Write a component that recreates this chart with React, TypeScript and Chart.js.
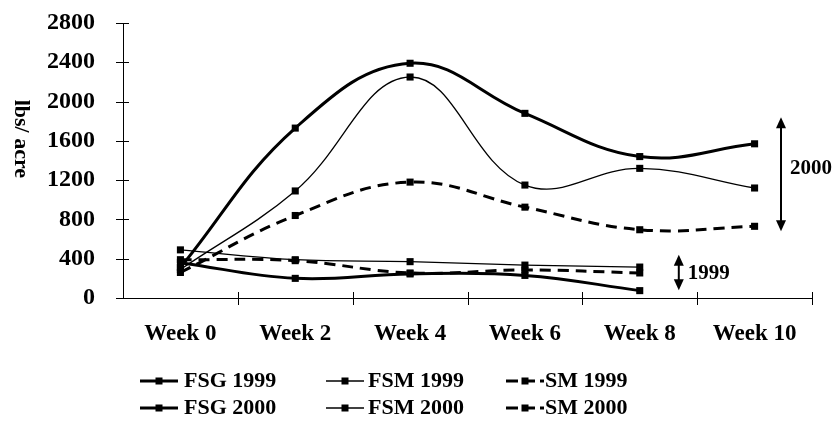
import React, { useEffect, useRef } from "react";
import { Chart, registerables } from "chart.js";

Chart.register(...registerables);

// ---------- data ----------
const categories = ["Week 0", "Week 2", "Week 4", "Week 6", "Week 8", "Week 10"];
const yTickValues = [0, 400, 800, 1200, 1600, 2000, 2400, 2800];

const fsg1999 = [360, 200, 245, 230, 75];
const fsm1999 = [490, 390, 370, 335, 315];
const sm1999 = [390, 380, 255, 285, 255];
const fsg2000 = [310, 1730, 2390, 1880, 1440, 1570];
const fsm2000 = [290, 1090, 2250, 1150, 1320, 1120];
const sm2000 = [260, 840, 1180, 925, 695, 730];

const seriesLabels = ["FSG 1999", "FSM 1999", "SM 1999", "FSG 2000", "FSM 2000", "SM 2000"];
const yTitle = "lbs/ acre";

// bracket annotations (value ranges) and their labels
const bracket2000 = [680, 1840];
const bracket1999 = [80, 440];
const bracketLabels = ["2000", "1999"];

const FONT = "'Liberation Serif', 'Times New Roman', serif";

const THICK = 3;
const THIN = 1.3;
const DASH = [11, 7];

function makeDataset(label: string, data: number[], kind: "fsg" | "fsm" | "sm") {
  return {
    label,
    data,
    borderColor: "#000",
    backgroundColor: "#000",
    borderWidth: kind === "fsm" ? THIN : THICK,
    borderDash: kind === "sm" ? DASH : [],
    pointStyle: "rect" as const,
    pointRadius: 5,
    pointBorderWidth: 0,
    pointBackgroundColor: "#000",
    tension: 0.4,
    fill: false,
  };
}

const decorPlugin = {
  id: "decor",
  afterDraw(chart: any) {
    const { ctx, chartArea, scales } = chart;
    const xs = scales.x;
    const ys = scales.y;
    ctx.save();
    ctx.strokeStyle = "#000";
    ctx.fillStyle = "#000";
    ctx.lineWidth = 1;
    ctx.setLineDash([]);

    // y tick marks (crossing the axis)
    for (const v of yTickValues) {
      const y = Math.round(ys.getPixelForValue(v)) + 0.5;
      ctx.beginPath();
      ctx.moveTo(chartArea.left - 7, y);
      ctx.lineTo(chartArea.left + 6, y);
      ctx.stroke();
    }
    // x tick marks at category boundaries
    const n = categories.length;
    const w = (chartArea.right - chartArea.left) / n;
    for (let i = 1; i <= n; i++) {
      const x = Math.round(chartArea.left + i * w) + 0.5;
      ctx.beginPath();
      ctx.moveTo(x, chartArea.bottom - 6);
      ctx.lineTo(x, chartArea.bottom + 7);
      ctx.stroke();
    }

    // y title, reading top to bottom
    ctx.save();
    ctx.font = `bold 22px ${FONT}`;
    ctx.textAlign = "center";
    ctx.textBaseline = "middle";
    ctx.translate(21, ys.getPixelForValue(1620));
    ctx.rotate(Math.PI / 2);
    ctx.fillText(yTitle, 0, 0);
    ctx.restore();

    // double arrows
    const drawArrow = (x: number, y1: number, y2: number) => {
      ctx.lineWidth = 2;
      ctx.beginPath();
      ctx.moveTo(x, y1 + 8);
      ctx.lineTo(x, y2 - 8);
      ctx.stroke();
      ctx.beginPath();
      ctx.moveTo(x, y1);
      ctx.lineTo(x - 5, y1 + 11);
      ctx.lineTo(x + 5, y1 + 11);
      ctx.closePath();
      ctx.fill();
      ctx.beginPath();
      ctx.moveTo(x, y2);
      ctx.lineTo(x - 5, y2 - 11);
      ctx.lineTo(x + 5, y2 - 11);
      ctx.closePath();
      ctx.fill();
    };
    const xA = chartArea.right - 31;
    const yA1 = ys.getPixelForValue(bracket2000[1]);
    const yA2 = ys.getPixelForValue(bracket2000[0]);
    drawArrow(xA, yA1, yA2);
    const xB = xs.getPixelForValue(4) + w * 0.34;
    const yB1 = ys.getPixelForValue(bracket1999[1]);
    const yB2 = ys.getPixelForValue(bracket1999[0]);
    drawArrow(xB, yB1, yB2);

    ctx.font = `bold 21px ${FONT}`;
    ctx.textAlign = "left";
    ctx.textBaseline = "middle";
    ctx.fillText(bracketLabels[0], xA + 9, (yA1 + yA2) / 2 - 6);
    ctx.fillText(bracketLabels[1], xB + 9, (yB1 + yB2) / 2 + 1);

    // legend: 2 rows x 3 columns
    const lineStarts = [140, 326, 506];
    const textStarts = [184, 368, 545];
    const rowYs = [381, 408];
    ctx.font = `bold 22px ${FONT}`;
    chart.data.datasets.forEach((ds: any, i: number) => {
      const col = i % 3;
      const row = Math.floor(i / 3);
      const y = rowYs[row];
      const x0 = lineStarts[col];
      const x1 = x0 + 38;
      ctx.lineWidth = ds.borderWidth;
      ctx.setLineDash(ds.borderDash && ds.borderDash.length ? [12, 5] : []);
      ctx.beginPath();
      ctx.moveTo(x0, y);
      ctx.lineTo(x1, y);
      ctx.stroke();
      ctx.setLineDash([]);
      ctx.fillRect((x0 + x1) / 2 - 3.5, y - 3.5, 7, 7);
      ctx.fillText(ds.label, textStarts[col], y);
    });
    ctx.restore();
  },
};

export default function App() {
  const canvasRef = useRef<HTMLCanvasElement | null>(null);

  useEffect(() => {
    document.body.style.margin = "0";
    const canvas = canvasRef.current;
    if (!canvas) return;
    const chart = new Chart(canvas, {
      type: "line",
      data: {
        labels: categories,
        datasets: [
          makeDataset(seriesLabels[0], fsg1999, "fsg"),
          makeDataset(seriesLabels[1], fsm1999, "fsm"),
          makeDataset(seriesLabels[2], sm1999, "sm"),
          makeDataset(seriesLabels[3], fsg2000, "fsg"),
          makeDataset(seriesLabels[4], fsm2000, "fsm"),
          makeDataset(seriesLabels[5], sm2000, "sm"),
        ],
      },
      options: {
        responsive: false,
        animation: false,
        devicePixelRatio: 1,
        layout: { padding: { top: 23, right: 25, left: 0, bottom: 0 } },
        plugins: {
          legend: { display: false },
          tooltip: { enabled: false },
        },
        scales: {
          x: {
            type: "category",
            offset: true,
            grid: { display: false },
            border: { display: true, color: "#000", width: 1 },
            ticks: {
              color: "#000",
              font: { family: FONT, size: 23, weight: "bold" },
              padding: 14,
              maxRotation: 0,
            },
            afterFit: (s: any) => {
              s.height = 128;
              s.paddingLeft = 0;
              s.paddingRight = 0;
            },
          },
          y: {
            min: 0,
            max: 2800,
            grid: { display: false },
            border: { display: true, color: "#000", width: 1 },
            afterBuildTicks: (s: any) => {
              s.ticks = yTickValues.map((v) => ({ value: v }));
            },
            ticks: {
              color: "#000",
              font: { family: FONT, size: 24, weight: "bold" },
              padding: 20,
              callback: (v: any) => String(v),
            },
            afterFit: (s: any) => {
              s.width = 123;
              s.paddingTop = 0;
              s.paddingBottom = 0;
            },
          },
        },
      },
      plugins: [decorPlugin],
    });
    return () => chart.destroy();
  }, []);

  return (
    <div style={{ width: 837, height: 426, background: "#fff" }}>
      <canvas ref={canvasRef} width={837} height={426} style={{ display: "block" }} />
    </div>
  );
}
